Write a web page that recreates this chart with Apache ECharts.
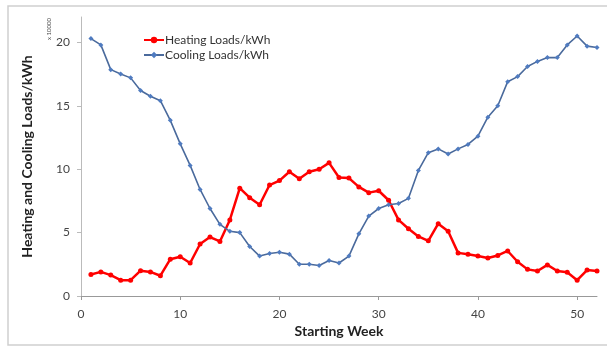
<!DOCTYPE html>
<html><head><meta charset="utf-8">
<script src="https://cdn.jsdelivr.net/npm/echarts@6/dist/echarts.min.js"></script>
<style>html,body{margin:0;padding:0;background:#fff}#c{width:607px;height:347px}</style>
</head><body><div id="c"></div>
<script>
const weeks = [1,2,3,4,5,6,7,8,9,10,11,12,13,14,15,16,17,18,19,20,21,22,23,24,25,26,27,28,29,30,31,32,33,34,35,36,37,38,39,40,41,42,43,44,45,46,47,48,49,50,51,52];
const heating = [1.7,1.9,1.65,1.25,1.25,2.0,1.9,1.6,2.9,3.1,2.6,4.1,4.65,4.3,6.0,8.5,7.75,7.2,8.75,9.1,9.8,9.25,9.8,10.0,10.5,9.35,9.3,8.6,8.15,8.3,7.55,6.0,5.3,4.7,4.35,5.7,5.1,3.4,3.3,3.15,3.0,3.2,3.55,2.7,2.1,1.97,2.45,1.97,1.87,1.25,2.05,1.97];
const cooling = [20.3,19.8,17.85,17.5,17.2,16.2,15.75,15.4,13.85,12.0,10.3,8.4,6.9,5.65,5.1,5.0,3.9,3.15,3.35,3.45,3.3,2.5,2.5,2.4,2.8,2.6,3.15,4.9,6.3,6.9,7.2,7.3,7.7,9.9,11.3,11.6,11.2,11.6,11.95,12.6,14.1,15.0,16.9,17.3,18.1,18.5,18.8,18.8,19.8,20.5,19.7,19.6];
const xTicks = [0,10,20,30,40,50];
const yTicks = [0,5,10,15,20];

const font = 'Lato, "Open Sans", sans-serif';
const chart = echarts.init(document.getElementById('c'), null, {renderer:'canvas'});
chart.setOption({
  animation:false,
  backgroundColor:'#fff',
  textStyle:{fontFamily:font},
  grid:{left:81,right:10,top:17,bottom:51,containLabel:false},
  graphic:[
    {type:'rect',shape:{x:8,y:6,width:620,height:339},style:{fill:'none',stroke:'#cfcfcf',lineWidth:1.5},silent:true},
    {type:'text',x:46,y:40,rotation:Math.PI/2,style:{text:'x 10000',fontSize:6,fill:'#444',fontFamily:font}}
  ],
  legend:{
    left:138,top:29,orient:'vertical',itemGap:3,itemWidth:20,itemHeight:8,
    textStyle:{fontSize:12,color:'#333',fontFamily:font,padding:[0,0,0,-4]},
    data:['Heating Loads/kWh','Cooling Loads/kWh']
  },
  xAxis:{
    type:'value',min:0,max:52,
    name:'Starting Week',nameLocation:'middle',nameGap:27,
    nameTextStyle:{fontSize:14,fontWeight:'bold',color:'#222',fontFamily:font},
    axisLine:{lineStyle:{color:'#999',width:1}},
    axisTick:{show:true,length:4,lineStyle:{color:'#999'},customValues:xTicks},
    axisLabel:{fontSize:12,color:'#444',margin:12,customValues:xTicks},
    splitLine:{show:false}
  },
  yAxis:{
    type:'value',min:0,max:22,
    name:'Heating and Cooling Loads/kWh',nameLocation:'middle',nameGap:47,nameRotate:90,
    nameTextStyle:{fontSize:14,fontWeight:'bold',color:'#222',fontFamily:font},
    axisLine:{show:true,lineStyle:{color:'#bbb',width:1}},
    axisTick:{show:true,length:4,lineStyle:{color:'#bbb'},customValues:yTicks},
    axisLabel:{fontSize:12,color:'#444',margin:11,customValues:yTicks},
    splitLine:{show:false}
  },
  series:[
    {name:'Heating Loads/kWh',type:'line',data:weeks.map((w,i)=>[w,heating[i]]),
     color:'#FF0000',symbol:'circle',symbolSize:5,
     lineStyle:{width:2.5,color:'#FF0000'},itemStyle:{color:'#FF0000'}},
    {name:'Cooling Loads/kWh',type:'line',data:weeks.map((w,i)=>[w,cooling[i]]),
     color:'#4A70A8',symbol:'diamond',symbolSize:5,
     lineStyle:{width:1.6,color:'#4A6A9C'},itemStyle:{color:'#4F7BC0'}}
  ]
});
</script></body></html>
